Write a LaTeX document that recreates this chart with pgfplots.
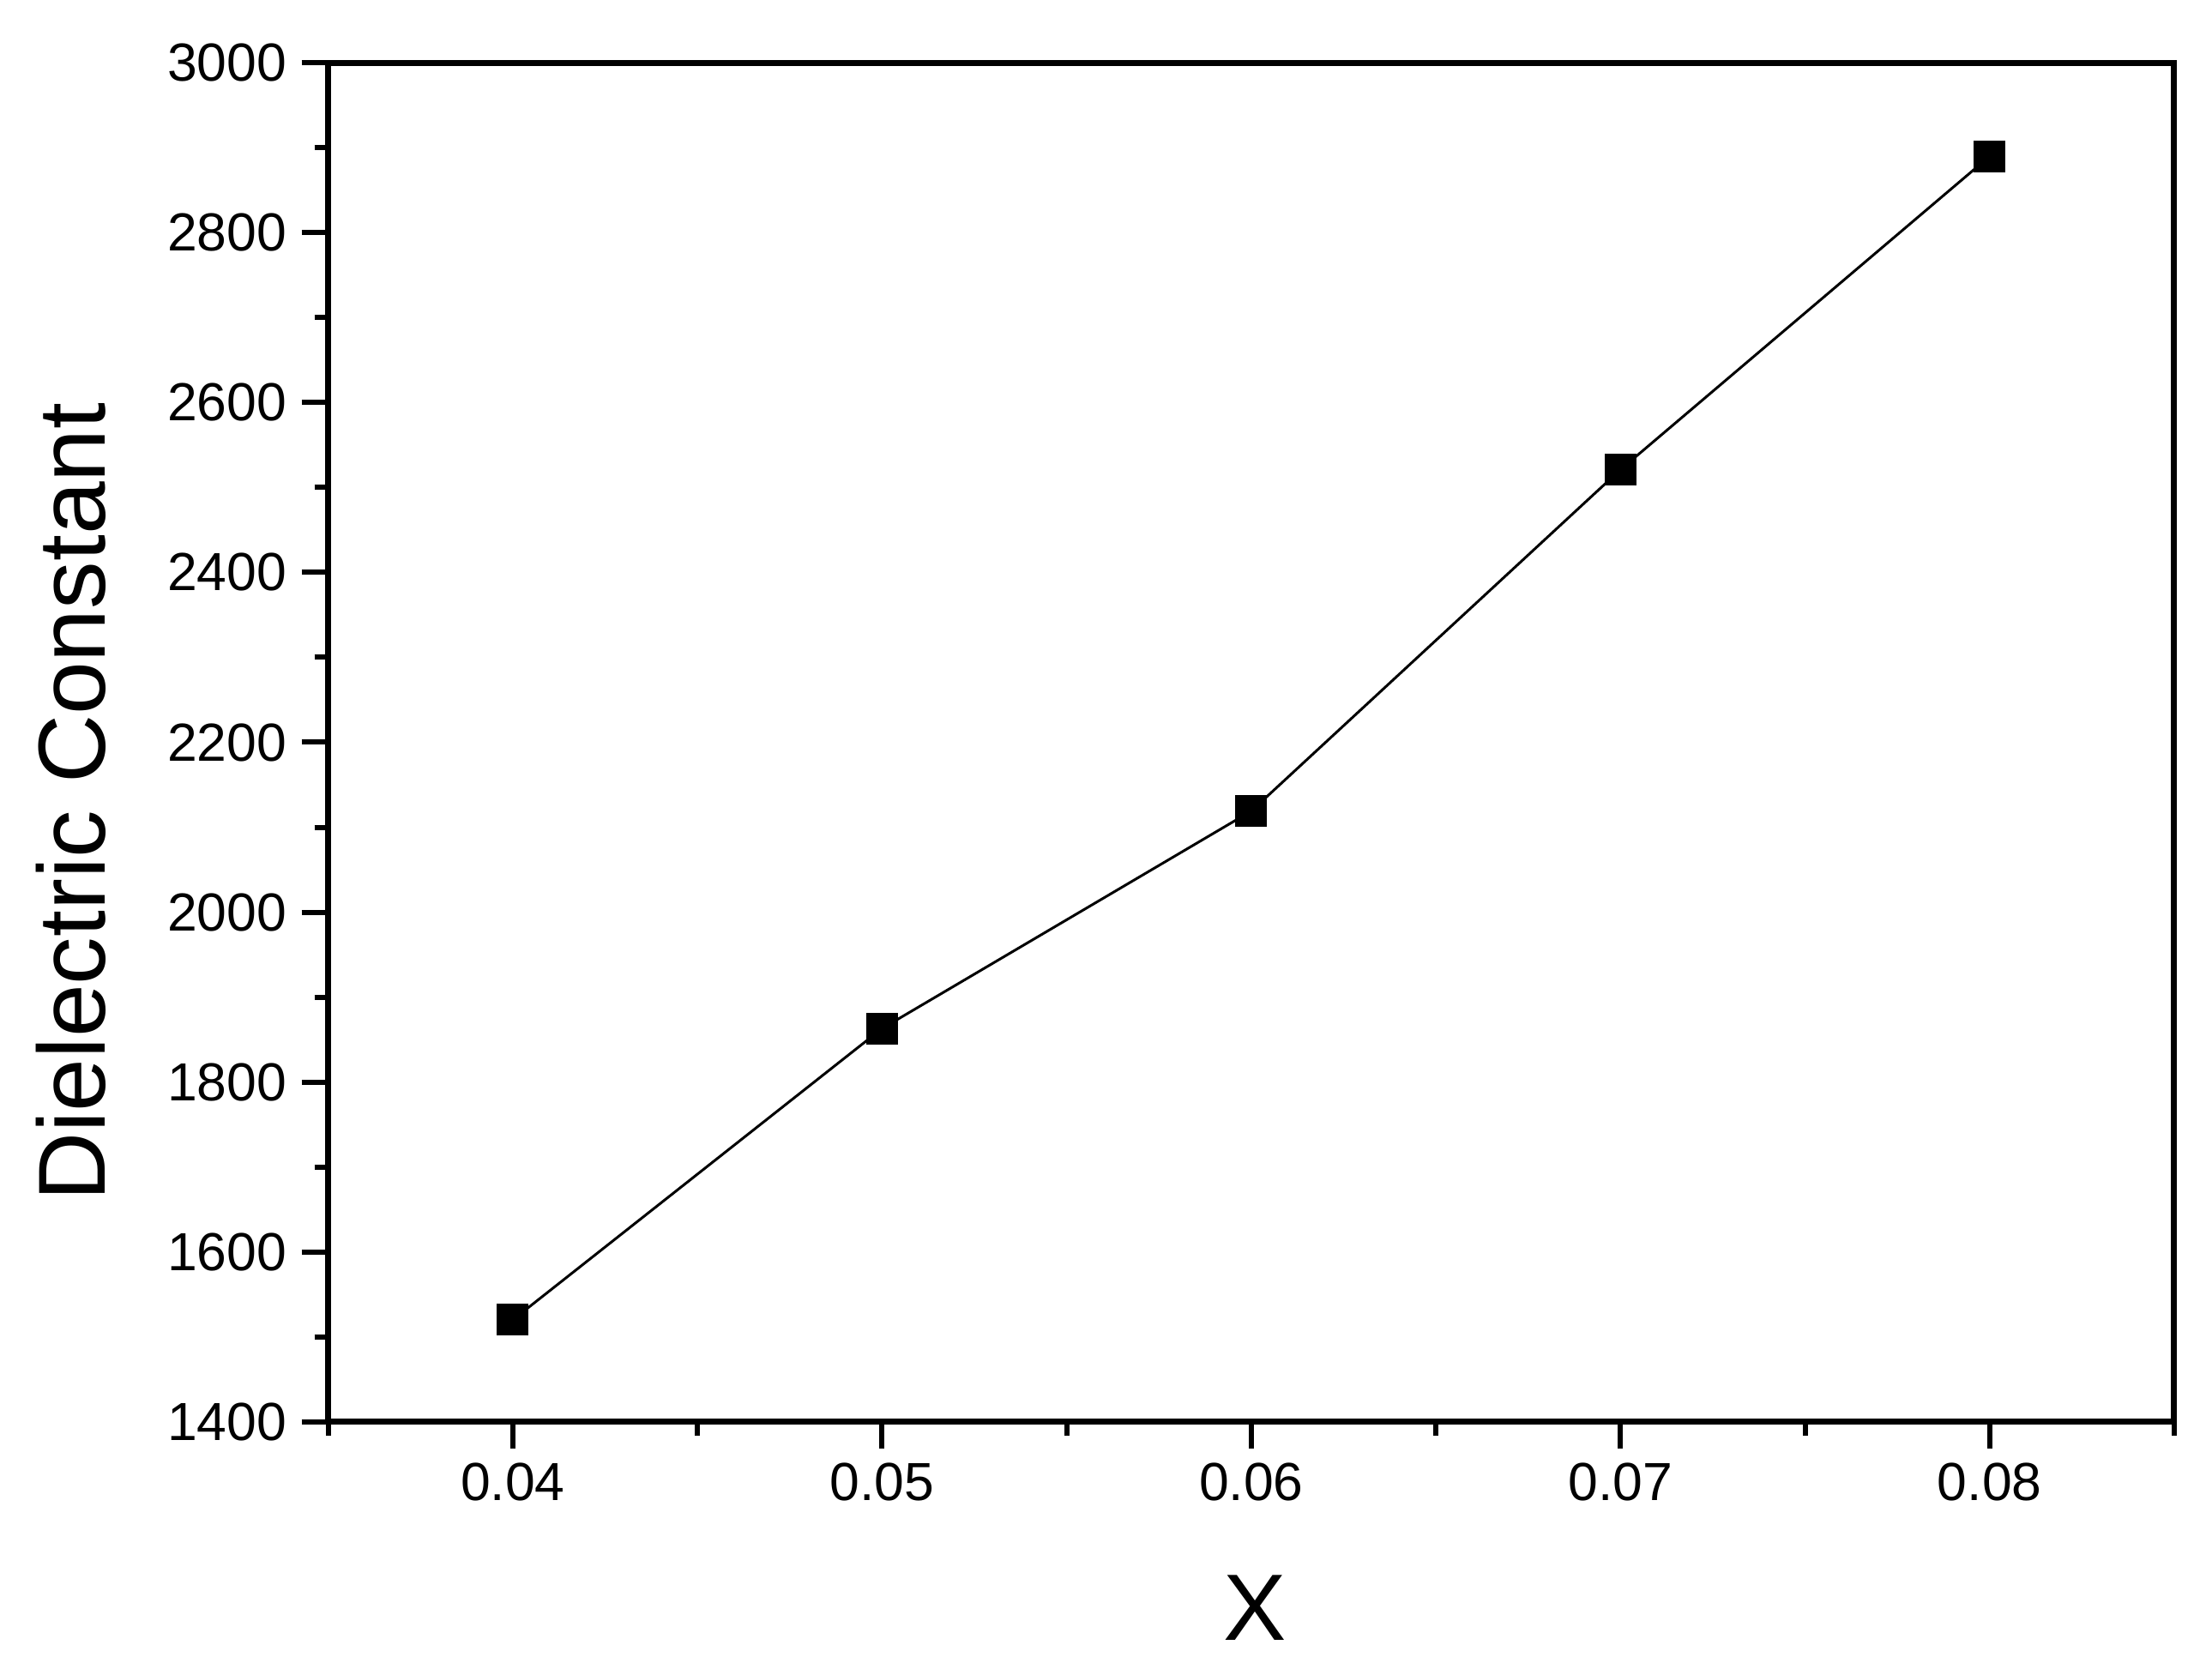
\documentclass[border=0pt]{standalone}
\usepackage{pgfplots}
\pgfplotsset{compat=1.18}
\usepackage{fontspec}
\setmainfont{Liberation Sans}
\begin{document}
\begin{tikzpicture}
\useasboundingbox (-76.54bp,-57.46bp) rectangle (439.26bp,331.54bp);
\begin{axis}[
  at={(0,0)}, anchor=south west,
  scale only axis,
  width=430.46bp, height=316.88bp,
  xmin=0.035, xmax=0.085,
  ymin=1400, ymax=3000,
  axis line style={line width=1.4bp},
  every tick/.style={black, line width=1.2bp},
  tick align=outside,
  xtick pos=bottom, ytick pos=left,
  major tick length=6.2bp, minor tick length=3.2bp,
  xtick={0.04,0.05,0.06,0.07,0.08},
  xticklabels={0.04,0.05,0.06,0.07,0.08},
  scaled x ticks=false,
  minor xtick={0.035,0.045,0.055,0.065,0.075,0.085},
  ytick={1400,1600,1800,2000,2200,2400,2600,2800,3000},
  minor y tick num=1,
  /pgf/number format/assume math mode=true,
  /pgf/number format/1000 sep={},
  tick label style={font=\fontsize{12.5bp}{14bp}\selectfont},
  xlabel={X},
  ylabel={Dielectric Constant},
  every axis x label/.style={at={(axis description cs:0.502,-0.1606)}, anchor=base, font=\fontsize{22bp}{26bp}\selectfont},
  every axis y label/.style={at={(axis description cs:-0.121,0.456)}, rotate=90, anchor=base, font=\fontsize{22.2bp}{26bp}\selectfont},
  clip=false,
]
\addplot[black, line width=0.6bp, mark=square*, mark size=3.6bp, mark options={solid, fill=black, line width=0pt}]
  coordinates {
    (0.04,1520)
    (0.05,1863)
    (0.06,2119)
    (0.07,2521)
    (0.08,2890)
  };
\end{axis}
\end{tikzpicture}
\end{document}
